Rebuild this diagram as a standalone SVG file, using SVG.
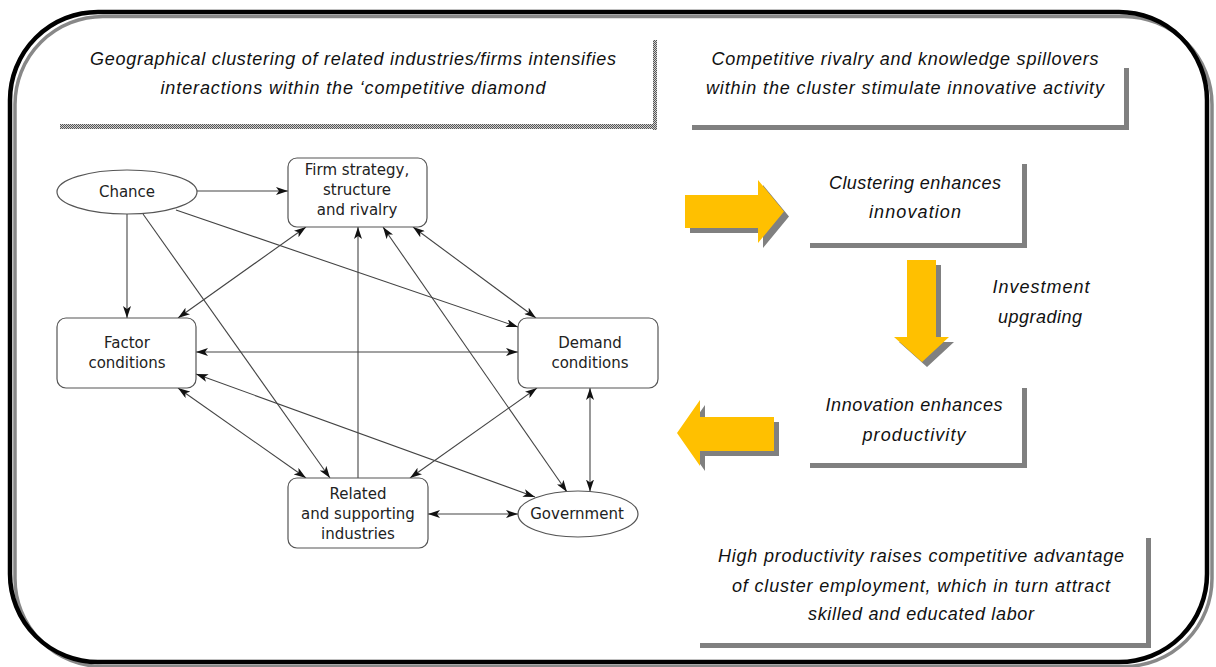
<svg xmlns="http://www.w3.org/2000/svg" width="1216" height="667" viewBox="0 0 1216 667">
<defs>
<style>
.it{font-family:"Liberation Sans",Arial,sans-serif;font-style:italic;font-size:18px;fill:#111;text-anchor:middle}
.nt{font-family:"DejaVu Sans",sans-serif;font-size:15px;fill:#222;text-anchor:middle}
.nd{fill:#fff;stroke:#555;stroke-width:1.2}
.ed{fill:none;stroke:#444;stroke-width:1.1}
.sh{fill:#808080}
.yl{fill:#FFC000}
.bl{fill:#808080}
</style>
<pattern id="dith" width="2" height="2" patternUnits="userSpaceOnUse">
<rect width="2" height="2" fill="#d0d0d0"/>
<rect width="1" height="1" fill="#555"/>
<rect x="1" y="1" width="1" height="1" fill="#555"/>
</pattern>
<marker id="ah" viewBox="0 0 12 8" refX="12" refY="4" markerWidth="12" markerHeight="8" markerUnits="userSpaceOnUse" orient="auto-start-reverse">
<path d="M0,0 L12,4 L0,8 L3,4 z" fill="#111"/>
</marker>
</defs>
<rect width="1216" height="667" fill="#fff"/>
<g id="frame">
<rect x="15" y="16.5" width="1197" height="650" rx="88" fill="none" stroke="#888" stroke-width="3.5"/>
<rect x="10" y="12" width="1197" height="650" rx="88" fill="none" stroke="#000" stroke-width="4.5"/>
</g>
<g id="box1">
<rect x="653" y="40" width="4" height="90" fill="url(#dith)"/>
<rect x="60" y="124" width="597" height="5" fill="url(#dith)"/>
<text class="it" x="353" y="65" textLength="526">Geographical clustering of related industries/firms intensifies</text>
<text class="it" x="353" y="94" textLength="385">interactions within the ‘competitive diamond</text>
</g>
<g id="box2">
<rect x="1124" y="68" width="5" height="62" class="bl"/>
<rect x="692" y="125" width="437" height="5" class="bl"/>
<text class="it" x="905" y="65" textLength="387">Competitive rivalry and knowledge spillovers</text>
<text class="it" x="905" y="94" textLength="398">within the cluster stimulate innovative activity</text>
</g>
<g id="box3">
<rect x="1022" y="164" width="5" height="84" class="bl"/>
<rect x="810" y="243" width="217" height="5" class="bl"/>
<text class="it" x="915" y="189" textLength="172">Clustering enhances</text>
<text class="it" x="915" y="218" textLength="92">innovation</text>
</g>
<g id="label-investment">
<text class="it" x="1041" y="293" textLength="97">Investment</text>
<text class="it" x="1040" y="323" textLength="84">upgrading</text>
</g>
<g id="box4">
<rect x="1022" y="388" width="5" height="80" class="bl"/>
<rect x="810" y="463" width="217" height="5" class="bl"/>
<text class="it" x="914" y="411" textLength="177">Innovation enhances</text>
<text class="it" x="914" y="441" textLength="103">productivity</text>
</g>
<g id="box5">
<rect x="1146" y="538" width="5" height="110" class="bl"/>
<rect x="700" y="643" width="451" height="5" class="bl"/>
<text class="it" x="921" y="562" textLength="406">High productivity raises competitive advantage</text>
<text class="it" x="921" y="592" textLength="378">of cluster employment, which in turn attract</text>
<text class="it" x="921" y="620" textLength="226">skilled and educated labor</text>
</g>
<g id="arrow-right">
<polygon class="sh" transform="translate(5,5)" points="685,195 758,195 758,180 784,211.5 758,243 758,228 685,228"/>
<polygon class="yl" points="685,195 758,195 758,180 784,211.5 758,243 758,228 685,228"/>
</g>
<g id="arrow-down">
<polygon class="sh" transform="translate(5,5)" points="907,260 936,260 936,337 949,337 922,362 894,337 907,337"/>
<polygon class="yl" points="907,260 936,260 936,337 949,337 922,362 894,337 907,337"/>
</g>
<g id="arrow-left">
<polygon class="sh" transform="translate(5,5)" points="774,417 700,417 700,400 677,433 700,466 700,451 774,451"/>
<polygon class="yl" points="774,417 700,417 700,400 677,433 700,466 700,451 774,451"/>
</g>
<g id="connectors">
<path class="ed" d="M197,191 L288,191" marker-end="url(#ah)"/>
<path class="ed" d="M127,214 L127,318" marker-end="url(#ah)"/>
<path class="ed" d="M176,210 L518,327" marker-end="url(#ah)"/>
<path class="ed" d="M143,214 L330,478" marker-end="url(#ah)"/>
<path class="ed" d="M306,227 L178,318" marker-start="url(#ah)" marker-end="url(#ah)"/>
<path class="ed" d="M358,478 L358,227" marker-end="url(#ah)"/>
<path class="ed" d="M383,227 L567,492" marker-start="url(#ah)" marker-end="url(#ah)"/>
<path class="ed" d="M413,227 L536,318" marker-start="url(#ah)" marker-end="url(#ah)"/>
<path class="ed" d="M196,352 L518,352" marker-start="url(#ah)" marker-end="url(#ah)"/>
<path class="ed" d="M178,388 L306,478" marker-start="url(#ah)" marker-end="url(#ah)"/>
<path class="ed" d="M196,374 L535,497" marker-start="url(#ah)" marker-end="url(#ah)"/>
<path class="ed" d="M537,388 L410,478" marker-start="url(#ah)" marker-end="url(#ah)"/>
<path class="ed" d="M590,388 L590,491.5" marker-start="url(#ah)" marker-end="url(#ah)"/>
<path class="ed" d="M428,514 L518,514" marker-start="url(#ah)" marker-end="url(#ah)"/>
</g>
<g id="chance">
<ellipse class="nd" cx="127" cy="192" rx="70" ry="22"/>
<text class="nt" x="127" y="197">Chance</text>
</g>
<g id="firm">
<rect class="nd" x="288" y="158" width="139" height="69" rx="9"/>
<text class="nt" x="357" y="175">Firm strategy,</text>
<text class="nt" x="357" y="195">structure</text>
<text class="nt" x="357" y="215">and rivalry</text>
</g>
<g id="factor">
<rect class="nd" x="57" y="318" width="139" height="70" rx="9"/>
<text class="nt" x="127" y="348">Factor</text>
<text class="nt" x="127" y="368">conditions</text>
</g>
<g id="demand">
<rect class="nd" x="518" y="318" width="140" height="70" rx="9"/>
<text class="nt" x="590" y="348">Demand</text>
<text class="nt" x="590" y="368">conditions</text>
</g>
<g id="related">
<rect class="nd" x="288" y="478" width="140" height="70" rx="9"/>
<text class="nt" x="358" y="499">Related</text>
<text class="nt" x="358" y="519">and supporting</text>
<text class="nt" x="358" y="539">industries</text>
</g>
<g id="government">
<ellipse class="nd" cx="578" cy="514" rx="60" ry="23"/>
<text class="nt" x="577" y="519">Government</text>
</g>
</svg>
